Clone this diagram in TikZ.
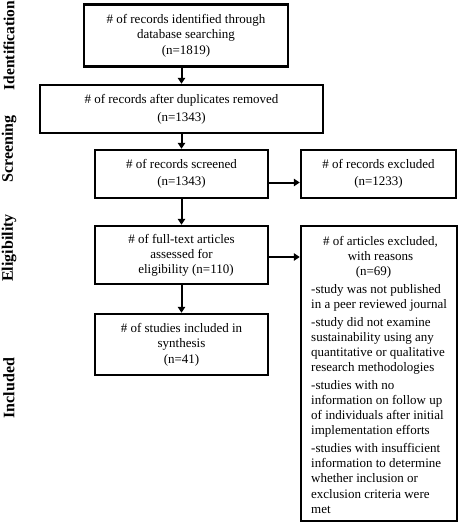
\documentclass[tikz,border=0pt]{standalone}
\usepackage{fontspec}
\setmainfont{Liberation Serif}
\usetikzlibrary{arrows.meta}
\tikzset{
  box/.style={draw=black, line width=2.5pt, rectangle, inner sep=0pt, align=center,
              font=\fontsize{13}{15.5}\selectfont},
  txt/.style={inner sep=0pt, font=\fontsize{13}{15.2}\selectfont},
  phase/.style={rotate=90, inner sep=0pt, font=\fontsize{16}{18}\selectfont\bfseries},
  arr/.style={line width=2pt, -{Triangle[length=6pt,width=7.5pt]}}
}
\begin{document}
\begin{tikzpicture}[x=1pt,y=-1pt]
\useasboundingbox (0,0) rectangle (461,523);
% phase labels
\node[phase, font=\fontsize{15.5}{18}\selectfont\bfseries] (pid) at (9,45.5) {Identification};
\node[phase] (pscr) at (9,149) {Screening};
\node[phase] (pel)  at (9,248) {Eligibility};
\node[phase] (pinc) at (9,388) {Included};
% boxes
\node[box, minimum width=204pt, minimum height=62pt] (b1) at (186,35.5)
  {\# of records identified through\\database searching\\(n=1819)};
\node[box, minimum width=283pt, minimum height=48pt, font=\fontsize{13}{18.3}\selectfont] (b2) at (181.5,109)
  {\# of records after duplicates removed\\(n=1343)};
\node[box, minimum width=173pt, minimum height=48pt, font=\fontsize{13}{17}\selectfont] (b3) at (181.5,174)
  {\# of records screened\\(n=1343)};
\node[box, minimum width=155pt, minimum height=48pt, font=\fontsize{13}{17}\selectfont] (x1) at (378.5,174)
  {\# of records excluded\\(n=1233)};
\node[box, minimum width=173pt, minimum height=58pt, font=\fontsize{13}{15}\selectfont] (b4) at (181.5,255)
  {\# of full-text articles\\assessed for\\\hspace*{9pt}eligibility (n=110)};
\node[box, minimum width=173pt, minimum height=61pt] (b6) at (181.5,344.5)
  {\# of studies included in\\synthesis\\(n=41)};
\node[box, minimum width=156pt, minimum height=295pt] (x2) at (379,373.5) {};
\node[txt, anchor=north, align=center, font=\fontsize{13}{15}\selectfont] (x2h) at (380.5,236)
  {\# of articles excluded,\\with reasons\\\hspace*{-14pt}(n=69)};
\node[txt, anchor=north west, align=left] (x2l) at (311,284)
  {-study was not published\\in a peer reviewed journal\\[2.4pt]
   -study did not examine\\sustainability using any\\quantitative or qualitative\\research methodologies\\[2.4pt]
   -studies with no\\information on follow up\\of individuals after initial\\implementation efforts\\[2.4pt]
   -studies with insufficient\\information to determine\\whether inclusion or\\exclusion criteria were\\met};
% connectors
\draw[arr] (b1.south -| b2.north) -- (b2.north);
\draw[arr] (b2.south) -- (b3.north);
\draw[arr] ([yshift=-8.5pt]b3.east) -- ([yshift=-8.5pt]b3.east -| x1.west);
\draw[arr] (b3.south) -- (b4.north);
\draw[arr] ([yshift=-2pt]b4.east) -- ([yshift=-2pt]b4.east -| x2.west);
\draw[arr] (b4.south) -- (b6.north);
\end{tikzpicture}
\end{document}
